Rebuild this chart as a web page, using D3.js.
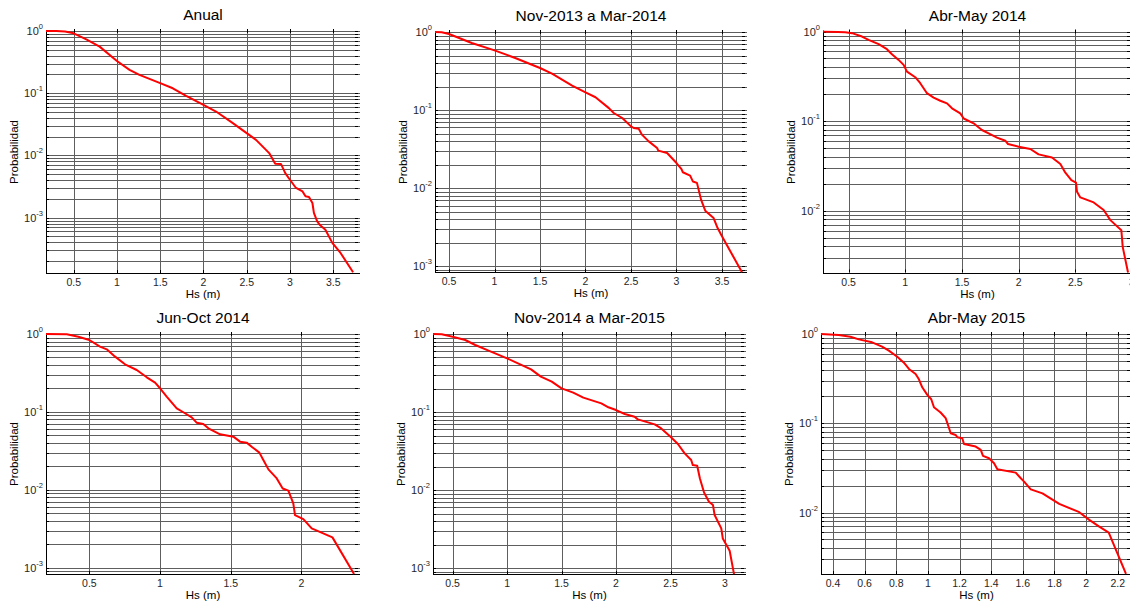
<!DOCTYPE html>
<html><head><meta charset="utf-8">
<script src="https://cdn.jsdelivr.net/npm/d3@7"></script>
<style>
html,body{margin:0;padding:0;background:#fff;}
svg{display:block;font-family:"Liberation Sans",Arial,sans-serif;}
</style></head>
<body>
<svg id="c" width="1130" height="605"></svg>
<script>
// ---------- data ----------
const titles = ["Anual","Nov-2013 a Mar-2014","Abr-May 2014","Jun-Oct 2014","Nov-2014 a Mar-2015","Abr-May 2015"];
const xLabel = "Hs (m)";
const yLabel = "Probabilidad";

const anualHs = [0.18,0.3,0.4,0.5,0.646,0.8,1.0,1.146,1.26,1.5,1.646,1.8,2.0,2.146,2.34,2.5,2.608,2.723,2.76,2.83,2.896,2.946,3.0,3.07,3.146,3.18,3.22,3.26,3.277,3.315,3.35,3.41,3.49,3.585,3.73];
const anualP  = [1,1,0.98,0.918,0.735,0.561,0.33,0.237,0.197,0.145,0.12,0.0906,0.065,0.0508,0.033,0.0228,0.0178,0.0123,0.0109,0.00735,0.0073,0.00521,0.00407,0.003,0.00264,0.0022,0.00215,0.00172,0.00119,0.000873,0.000753,0.000641,0.000393,0.000271,0.000133];

const nov13Hs = [0.346,0.42,0.5,0.75,1.0,1.228,1.5,1.632,1.853,2.0,2.11,2.257,2.31,2.404,2.5,2.53,2.585,2.62,2.695,2.787,2.8,2.897,3.0,3.055,3.07,3.15,3.18,3.225,3.27,3.316,3.408,3.452,3.5,3.72];
const nov13P  = [1,0.99,0.943,0.723,0.582,0.465,0.346,0.293,0.206,0.169,0.146,0.106,0.0918,0.0792,0.0619,0.059,0.0578,0.0485,0.0398,0.0327,0.0303,0.0282,0.021,0.0176,0.016,0.0145,0.0122,0.0117,0.00714,0.00516,0.00415,0.00309,0.00242,0.00084];

const abr14Hs = [0.274,0.47,0.53,0.618,0.676,0.765,0.838,0.882,0.941,0.985,1.015,1.088,1.132,1.191,1.25,1.309,1.368,1.412,1.485,1.515,1.603,1.632,1.676,1.735,1.809,1.882,1.906,2.0,2.103,2.176,2.294,2.368,2.412,2.465,2.506,2.515,2.544,2.662,2.75,2.809,2.906,2.918,2.965];
const abr14P  = [1,0.983,0.958,0.879,0.807,0.722,0.635,0.558,0.482,0.424,0.357,0.309,0.265,0.205,0.183,0.169,0.158,0.139,0.122,0.107,0.0946,0.0883,0.0797,0.0731,0.0654,0.0605,0.0556,0.0519,0.0489,0.0426,0.0394,0.0332,0.0266,0.022,0.0206,0.0163,0.0141,0.0124,0.0102,0.00787,0.00608,0.00396,0.00205];

const jun14Hs = [0.193,0.34,0.422,0.5,0.575,0.623,0.682,0.752,0.835,0.906,0.965,1.0,1.047,1.118,1.165,1.224,1.259,1.306,1.342,1.425,1.519,1.566,1.613,1.653,1.703,1.731,1.767,1.826,1.868,1.908,1.943,1.955,2.014,2.073,2.22,2.373];
const jun14P  = [1,0.99,0.924,0.838,0.688,0.636,0.512,0.408,0.345,0.278,0.237,0.201,0.157,0.111,0.099,0.0852,0.0727,0.07,0.0615,0.0515,0.0481,0.0415,0.0403,0.0351,0.03,0.0242,0.0183,0.014,0.0104,0.00975,0.0067,0.00474,0.00421,0.0032,0.00245,0.00083];

const nov14Hs = [0.32,0.4,0.5,0.616,0.708,0.83,1.0,1.1,1.22,1.31,1.41,1.5,1.607,1.7,1.865,1.93,2.0,2.08,2.17,2.2,2.355,2.415,2.5,2.568,2.63,2.69,2.705,2.745,2.77,2.808,2.853,2.89,2.905,2.966,2.98,3.043,3.083];
const nov14P  = [1,0.99,0.924,0.838,0.723,0.611,0.488,0.421,0.352,0.284,0.245,0.201,0.177,0.153,0.129,0.115,0.106,0.0943,0.0871,0.0805,0.0695,0.0617,0.0483,0.0389,0.0295,0.0243,0.0209,0.0205,0.0141,0.00933,0.00708,0.00642,0.00479,0.00323,0.0024,0.00167,0.000838];

const abr15Hs = [0.324,0.436,0.51,0.563,0.647,0.71,0.753,0.806,0.848,0.88,0.922,0.943,0.964,0.996,1.021,1.038,1.08,1.112,1.129,1.144,1.175,1.186,1.217,1.228,1.302,1.334,1.348,1.386,1.418,1.439,1.555,1.587,1.608,1.65,1.724,1.83,1.957,2.02,2.083,2.143,2.252];
const abr15P  = [1,0.975,0.933,0.871,0.807,0.721,0.651,0.557,0.477,0.406,0.357,0.311,0.253,0.208,0.186,0.151,0.132,0.114,0.0933,0.0772,0.074,0.0697,0.0679,0.0587,0.0548,0.0503,0.0431,0.0406,0.0356,0.0305,0.028,0.0242,0.0222,0.0182,0.0164,0.0125,0.0101,0.00828,0.00697,0.00597,0.00206];

const seriesHs = [anualHs, nov13Hs, abr14Hs, jun14Hs, nov14Hs, abr15Hs];
const seriesP  = [anualP, nov13P, abr14P, jun14P, nov14P, abr15P];

const xDomains = [[0.18,3.81],[0.346,3.775],[0.274,3.0],[0.193,2.415],[0.32,3.193],[0.324,2.29]];
const yDomains = [[1.29e-4,1],[8.45e-4,1],[2.05e-3,1],[8.3e-4,1],[8.4e-4,1],[2.05e-3,1]];

const xTicksA = [0.5,1,1.5,2,2.5,3,3.5];
const xTicksB = [0.5,1,1.5,2,2.5,3];
const xTicksC = [0.5,1,1.5,2];
const xTicksD = [0.4,0.6,0.8,1,1.2,1.4,1.6,1.8,2,2.2];
const xTicks = [xTicksA, xTicksA, xTicksB, xTicksC, xTicksB, xTicksD];
const yMajorExp = [0,-1,-2,-3];

// ---------- layout ----------
const rects = [
  {l:46, r:360, t:31, b:273},
  {l:435,r:747, t:32, b:272},
  {l:823,r:1132,t:31.5,b:272.5},
  {l:46, r:360, t:334,b:574},
  {l:433,r:746, t:334,b:574},
  {l:821,r:1132,t:334,b:574}
];

const svg = d3.select("#c");
const gridColor = "#5e5e5e";

rects.forEach((R, i) => {
  const x = d3.scaleLinear().domain(xDomains[i]).range([R.l, R.r]);
  const y = d3.scaleLog().domain(yDomains[i]).range([R.b, R.t]);
  const g = svg.append("g");
  const [ylo, yhi] = yDomains[i];

  // minor/major y values
  const yvals = [];
  for (let e = Math.floor(Math.log10(ylo)); e <= 0; e++) {
    for (let m = 1; m <= 9; m++) {
      const v = m * Math.pow(10, e);
      if (v >= ylo * 0.999 && v <= yhi * 1.0001) yvals.push(v);
    }
  }
  const clipId = "clip" + i;
  svg.append("clipPath").attr("id", clipId).append("rect")
    .attr("x", R.l).attr("y", R.t - 1).attr("width", R.r - R.l).attr("height", R.b - R.t + 2);

  // horizontal grid
  g.append("g").selectAll("line").data(yvals).join("line")
    .attr("x1", R.l).attr("x2", R.r)
    .attr("y1", d => Math.round(y(d)) + 0.5).attr("y2", d => Math.round(y(d)) + 0.5)
    .attr("stroke", gridColor).attr("stroke-width", 1);
  // vertical grid
  g.append("g").selectAll("line").data(xTicks[i]).join("line")
    .attr("x1", d => Math.round(x(d)) + 0.5).attr("x2", d => Math.round(x(d)) + 0.5)
    .attr("y1", R.t).attr("y2", R.b)
    .attr("stroke", gridColor).attr("stroke-width", 1);

  // tick marks (inside) left/right/top/bottom
  const tk = 3;
  g.append("g").selectAll("line").data(yvals).join("line")
    .attr("x1", R.l).attr("x2", R.l + tk)
    .attr("y1", d => Math.round(y(d)) + 0.5).attr("y2", d => Math.round(y(d)) + 0.5)
    .attr("stroke", "#000");
  g.append("g").selectAll("line").data(yvals).join("line")
    .attr("x1", R.r - 2 - tk).attr("x2", R.r - 2)
    .attr("y1", d => Math.round(y(d)) + 0.5).attr("y2", d => Math.round(y(d)) + 0.5)
    .attr("stroke", "#000");
  g.append("g").selectAll("line").data(xTicks[i]).join("line")
    .attr("x1", d => Math.round(x(d)) + 0.5).attr("x2", d => Math.round(x(d)) + 0.5)
    .attr("y1", R.t - 2).attr("y2", R.t + tk - 1)
    .attr("stroke", "#000");
  g.append("g").selectAll("line").data(xTicks[i]).join("line")
    .attr("x1", d => Math.round(x(d)) + 0.5).attr("x2", d => Math.round(x(d)) + 0.5)
    .attr("y1", R.b - tk).attr("y2", R.b)
    .attr("stroke", "#000");

  // axis lines
  g.append("line").attr("x1", Math.round(R.l) + 0.5).attr("x2", Math.round(R.l) + 0.5)
    .attr("y1", R.t - 1).attr("y2", R.b + 0.5).attr("stroke", "#000");
  g.append("line").attr("x1", R.l).attr("x2", R.r)
    .attr("y1", Math.round(R.b) + 0.5).attr("y2", Math.round(R.b) + 0.5).attr("stroke", "#000");

  // x tick labels
  g.append("g").selectAll("text").data(xTicks[i]).join("text")
    .attr("x", d => x(d)).attr("y", R.b + 13)
    .attr("text-anchor", "middle").attr("font-size", 10.5).attr("fill", "#262626")
    .text(d => d3.format("")(d));

  // y tick labels 10^k
  yMajorExp.forEach(e => {
    const v = Math.pow(10, e);
    if (v < ylo * 0.999) return;
    const t = g.append("text").attr("x", R.l - 3).attr("y", y(v) + 4)
      .attr("text-anchor", "end").attr("font-size", 11).attr("fill", "#262626");
    t.append("tspan").text("10");
    t.append("tspan").attr("dy", -6).attr("font-size", 7.5).text(String(e));
  });

  // curve
  const pts = seriesHs[i].map((h, k) => [h, seriesP[i][k]]);
  g.append("path").datum(pts)
    .attr("clip-path", `url(#${clipId})`)
    .attr("d", d3.line().x(d => x(d[0])).y(d => y(d[1])))
    .attr("fill", "none").attr("stroke", "#ff0000").attr("stroke-width", 2)
    .attr("stroke-linejoin", "round");

  // title
  const cx = (R.l + Math.min(R.r, 1130)) / 2;
  g.append("text").attr("x", (R.l + R.r) / 2).attr("y", R.t - 11)
    .attr("text-anchor", "middle").attr("font-size", 15.5).attr("fill", "#000")
    .text(titles[i]);
  // x label
  g.append("text").attr("x", (R.l + R.r) / 2).attr("y", R.b + 25)
    .attr("text-anchor", "middle").attr("font-size", 11.5).attr("fill", "#000")
    .text(xLabel);
  // y label
  const ly = (R.t + R.b) / 2;
  g.append("text").attr("transform", `translate(${R.l - 28},${ly}) rotate(-90)`)
    .attr("text-anchor", "middle").attr("font-size", 11.5).attr("fill", "#000")
    .text(yLabel);
});
</script>
</body></html>
